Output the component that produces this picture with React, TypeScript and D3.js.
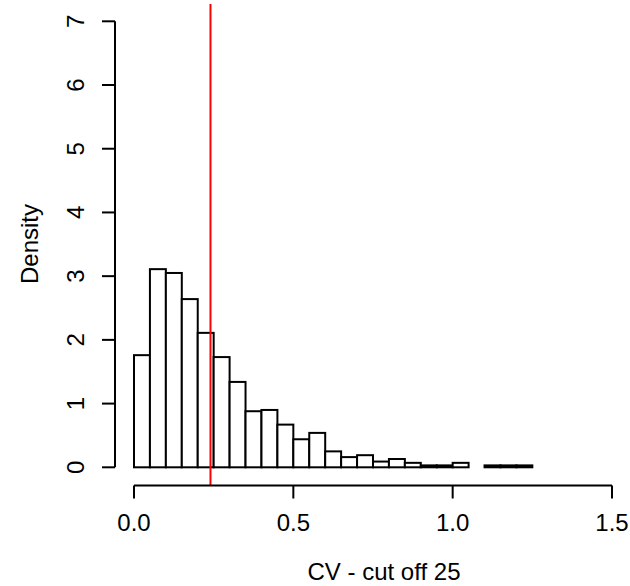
import React from "react";
import * as d3 from "d3";

const binStarts = [0, 0.05, 0.1, 0.15, 0.2, 0.25, 0.3, 0.35, 0.4, 0.45, 0.5, 0.55, 0.6, 0.65, 0.7, 0.75, 0.8, 0.85, 0.9, 0.95, 1.0, 1.05, 1.1, 1.15, 1.2];
const densities = [1.76, 3.11, 3.05, 2.64, 2.11, 1.73, 1.34, 0.88, 0.9, 0.67, 0.44, 0.54, 0.25, 0.16, 0.19, 0.09, 0.13, 0.07, 0.03, 0.03, 0.07, 0.0, 0.03, 0.03, 0.03];
const binWidth = 0.05;
const xTicks = [0, 0.5, 1.0, 1.5];
const xTickLabels = ["0.0", "0.5", "1.0", "1.5"];
const yTicks = [0, 1, 2, 3, 4, 5, 6, 7];
const cutoff = 0.24;
const xLabel = "CV - cut off 25";
const yLabel = "Density";

export default function App() {
  const W = 630;
  const H = 586;
  const x = d3.scaleLinear().domain([0, 1.5]).range([134, 612]);
  const y = d3.scaleLinear().domain([0, 7]).range([467.3, 21.3]);
  const plotTop = 4;
  const plotBottom = 485.5;
  const axisY = 485.5;
  const axisX = 115;
  const font = "'Liberation Sans', Arial, sans-serif";
  const fs = 24;

  return (
    <svg width={W} height={H} style={{ position: "absolute", left: 0, top: 0, background: "#fff" }}>
      <rect x={0} y={0} width={W} height={H} fill="#fff" />
      {binStarts.map((b, i) => (
        <rect
          key={i}
          x={x(b)}
          y={y(densities[i])}
          width={x(b + binWidth) - x(b)}
          height={y(0) - y(densities[i])}
          fill="#fff"
          stroke="#000"
          strokeWidth={2}
        />
      ))}
      <line x1={x(cutoff)} x2={x(cutoff)} y1={plotTop} y2={plotBottom} stroke="#ff0000" strokeWidth={2} />
      {/* x axis */}
      <line x1={x(0)} x2={x(1.5)} y1={axisY} y2={axisY} stroke="#000" strokeWidth={2} />
      {xTicks.map((t, i) => (
        <g key={i}>
          <line x1={x(t)} x2={x(t)} y1={axisY} y2={axisY + 13} stroke="#000" strokeWidth={2} />
          <text x={x(t)} y={531} textAnchor="middle" fontFamily={font} fontSize={fs} fill="#000">
            {xTickLabels[i]}
          </text>
        </g>
      ))}
      {/* y axis */}
      <line x1={axisX} x2={axisX} y1={y(0)} y2={y(7)} stroke="#000" strokeWidth={2} />
      {yTicks.map((t, i) => (
        <g key={i}>
          <line x1={axisX} x2={axisX - 13} y1={y(t)} y2={y(t)} stroke="#000" strokeWidth={2} />
          <text
            transform={`translate(84,${y(t)}) rotate(-90)`}
            textAnchor="middle"
            fontFamily={font}
            fontSize={fs}
            fill="#000"
          >
            {String(t)}
          </text>
        </g>
      ))}
      <text x={384} y={580} textAnchor="middle" fontFamily={font} fontSize={fs} fill="#000">
        {xLabel}
      </text>
      <text transform={`translate(38,244) rotate(-90)`} textAnchor="middle" fontFamily={font} fontSize={fs} fill="#000">
        {yLabel}
      </text>
    </svg>
  );
}
